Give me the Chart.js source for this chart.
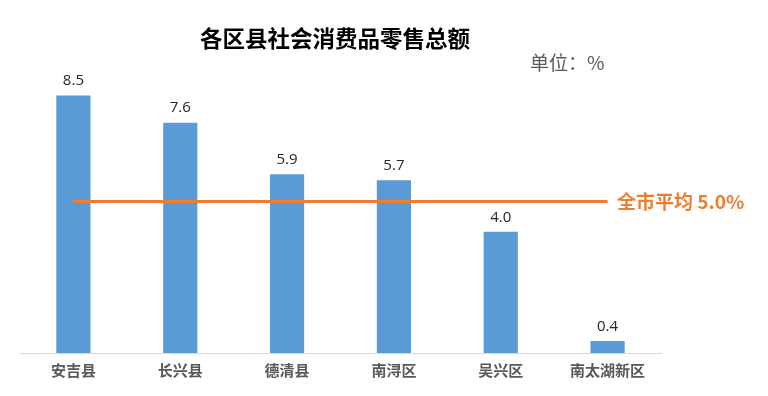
<!DOCTYPE html>
<html>
<head>
<meta charset="utf-8">
<script src="https://cdn.jsdelivr.net/npm/chart.js@4"></script>
<style>
  html, body { margin: 0; padding: 0; background: #fff; }
  #wrap { width: 768px; height: 396px; position: relative; }
</style>
</head>
<body>
<div id="wrap"><canvas id="grafico"></canvas></div>
<script>
// datos del gráfico
const categorias = ['安吉县', '长兴县', '德清县', '南浔区', '吴兴区', '南太湖新区'];
const valores = [8.5, 7.6, 5.9, 5.7, 4.0, 0.4];
const promedio = 5.0;
const lineaPromedio = categorias.map(() => promedio);

const titulo = '各区县社会消费品零售总额';
const unidad = '单位：%';
const etiquetaPromedio = '全市平均 5.0%';

const FUENTE = '"Noto Sans CJK SC", "Microsoft YaHei", sans-serif';

// textos dibujados sobre el canvas
const textosPlugin = {
    id: 'textos',
    afterDatasetsDraw(chart) {
        const ctx = chart.ctx;
        const meta = chart.getDatasetMeta(0);
        ctx.save();
        ctx.textAlign = 'center';
        ctx.textBaseline = 'bottom';
        ctx.fillStyle = '#262626';
        ctx.font = '15px "Open Sans", sans-serif';
        meta.data.forEach((bar, i) => {
            ctx.fillText(valores[i].toFixed(1), bar.x, bar.y - 7);
        });

        // título
        ctx.fillStyle = '#000';
        ctx.font = 'bold 22.5px ' + FUENTE;
        ctx.textBaseline = 'middle';
        ctx.fillText(titulo, 335, 38);

        // unidad
        ctx.fillStyle = '#595959';
        ctx.font = '19px ' + FUENTE;
        ctx.textAlign = 'left';
        ctx.fillText(unidad, 530, 63);

        // etiqueta del promedio
        const y = chart.scales.y.getPixelForValue(promedio);
        ctx.fillStyle = '#ED7D31';
        ctx.font = 'bold 19px ' + FUENTE;
        ctx.fillText(etiquetaPromedio, 617, y);
        ctx.restore();
    }
};

const ctx = document.getElementById('grafico').getContext('2d');
new Chart(ctx, {
    type: 'bar',
    data: {
        labels: categorias,
        datasets: [{
            type: 'bar',
            label: '零售总额',
            data: valores,
            backgroundColor: '#5B9BD5',
            categoryPercentage: 1,
            barPercentage: 0.32,
            order: 2
        }, {
            type: 'line',
            label: '全市平均',
            data: lineaPromedio,
            borderColor: '#ED7D31',
            borderWidth: 3,
            pointRadius: 0,
            fill: false,
            order: 1
        }]
    },
    options: {
        responsive: true,
        maintainAspectRatio: false,
        animation: false,
        layout: {
            padding: { left: 20, right: 107, top: 50, bottom: 17 }
        },
        scales: {
            x: {
                grid: { display: false },
                border: { color: '#D9D9D9', width: 1 },
                ticks: {
                    color: '#595959',
                    padding: 0,
                    font: { family: FUENTE, size: 15, weight: 'bold' }
                }
            },
            y: {
                display: false,
                min: 0,
                max: 10
            }
        },
        plugins: {
            legend: { display: false },
            tooltip: { enabled: false }
        }
    },
    plugins: [textosPlugin]
});
</script>
</body>
</html>
